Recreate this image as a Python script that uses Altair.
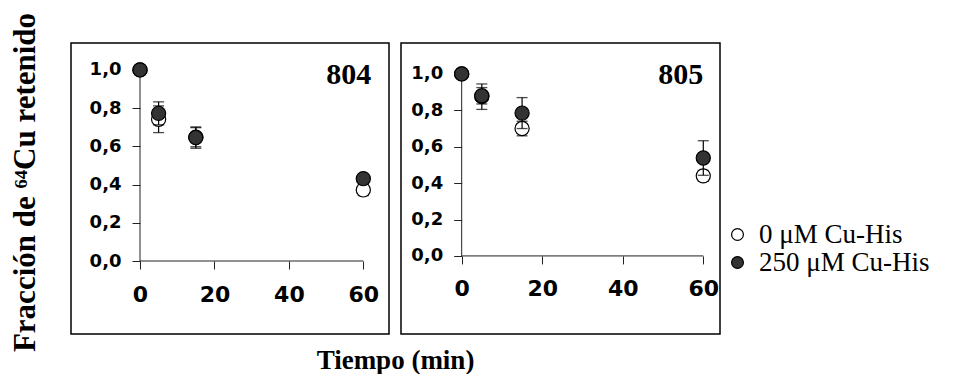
import altair as alt
import pandas as pd

# ---------------- data ----------------
times = [0, 5, 15, 60]
series_names = ["0 μM Cu-His", "250 μM Cu-His"]
panel_names = ["804", "805"]
x_ticks = [0, 20, 40, 60]
y_ticks = [0.0, 0.2, 0.4, 0.6, 0.8, 1.0]
axis_x_extent = [0, 60]
axis_y_extent = [0, 1]

m804_0 = [1.0, 0.742, 0.648, 0.372]
e804_0 = [0.0, 0.07, 0.05, 0.03]
m804_250 = [1.0, 0.773, 0.646, 0.431]
e804_250 = [0.0, 0.06, 0.056, 0.02]

m805_0 = [1.0, 0.875, 0.70, 0.44]
e805_0 = [0.0, 0.07, 0.04, 0.03]
m805_250 = [1.0, 0.88, 0.785, 0.538]
e805_250 = [0.0, 0.045, 0.085, 0.095]

y_title = "Fracción de ⁶⁴Cu retenido"
x_title = "Tiempo (min)"


def table(mo, eo, mf, ef):
    rows = []
    for s, ms, es in [(series_names[0], mo, eo), (series_names[1], mf, ef)]:
        for t, m, e in zip(times, ms, es):
            rows.append({"t": t, "serie": s, "mean": m, "lo": m - e, "hi": m + e})
    return pd.DataFrame(rows)


df804 = table(m804_0, e804_0, m804_250, e804_250)
df805 = table(m805_0, e805_0, m805_250, e805_250)
axes_df = pd.DataFrame({
    "x": [axis_x_extent[0], 0],
    "x2": [axis_x_extent[1], 0],
    "y": [0, axis_y_extent[0]],
    "y2": [0, axis_y_extent[1]],
})

fill_scale = alt.Scale(domain=series_names, range=["white", "#333333"])
legend = alt.Legend(
    orient="none", legendX=653, legendY=178, title=None,
    labelFont="Liberation Serif", labelFontSize=27, labelColor="black",
    labelOffset=8, labelLimit=300,
    symbolType="circle", symbolSize=140, symbolStrokeColor="black",
    symbolStrokeWidth=1.2, rowPadding=0, padding=0,
)

SANS = "DejaVu Sans"
SERIF = "Liberation Serif"


def panel(name, df, width, height, xdom, ydom, with_titles, name_dx, name_dy):
    x0 = width * (0 - xdom[0]) / (xdom[1] - xdom[0])
    y0 = height * (ydom[1] - 0) / (ydom[1] - ydom[0])
    xs = alt.Scale(domain=xdom, nice=False, zero=False)
    ys = alt.Scale(domain=ydom, nice=False, zero=False)
    xkw = dict(
        values=x_ticks, offset=y0 - height, domain=False, grid=False,
        tickSize=8, tickColor="#222222", tickWidth=1,
        labelFont=SANS, labelFontWeight="bold", labelFontSize=22,
        labelColor="black", labelPadding=15, labelFlush=False,
        labelOverlap=False, format="d",
    )
    ykw = dict(
        values=y_ticks, offset=-x0, domain=False, grid=False,
        tickSize=8, tickColor="#222222", tickWidth=1,
        labelFont=SANS, labelFontWeight="bold", labelFontSize=18,
        labelColor="black", labelPadding=11, labelFlush=False,
        labelOverlap=False,
        labelExpr="replace(format(datum.value, '.1f'), '.', ',')",
    )
    if with_titles:
        xkw.update(title=x_title, titleX=324, titleY=369 - (44 + y0),
                   titleAlign="center", titleBaseline="alphabetic", titleAngle=0,
                   titleFont=SERIF, titleFontSize=27, titleFontWeight="bold",
                   titleColor="black")
        ykw.update(title=y_title, titleX=-x0 - 37, titleY=139,
                   titleAlign="center", titleBaseline="alphabetic", titleAngle=270,
                   titleFont=SERIF, titleFontSize=31, titleFontWeight="bold",
                   titleColor="black")
    else:
        xkw.update(title=None)
        ykw.update(title=None)
    xaxis = alt.Axis(**xkw)
    yaxis = alt.Axis(**ykw)

    def X(f):
        return alt.X(f, type="quantitative", scale=xs, axis=xaxis)

    def Y(f):
        return alt.Y(f, type="quantitative", scale=ys, axis=yaxis)

    layers = [
        alt.Chart(axes_df).mark_rule(color="#222222", strokeWidth=1).encode(
            x=X("x"), x2="x2", y=Y("y"), y2="y2")
    ]
    for s in series_names:
        sub = alt.Chart(df).transform_filter(alt.datum.serie == s)
        layers.append(sub.mark_rule(color="black", strokeWidth=1.2).encode(
            x=X("t"), y=Y("lo"), y2="hi"))
        layers.append(sub.transform_fold(["lo", "hi"], as_=["k", "v"]).mark_tick(
            orient="horizontal", size=11, thickness=1.3, color="black").encode(
            x=X("t"), y=Y("v:Q")))
        layers.append(sub.mark_point(
            filled=True, shape="circle", size=200, stroke="black",
            strokeWidth=1.2, opacity=1).encode(
            x=X("t"), y=Y("mean"),
            fill=alt.Fill("serie:N", scale=fill_scale, legend=legend)))
    label_df = pd.DataFrame({"t": [max(x_ticks)], "v": [max(y_ticks)], "label": [name]})
    layers.append(alt.Chart(label_df).mark_text(
        align="right", baseline="alphabetic", dx=name_dx, dy=name_dy,
        font=SERIF, fontSize=30, fontWeight="bold", color="black").encode(
        x=X("t"), y=Y("v"), text="label:N"))
    return alt.layer(*layers).properties(width=width, height=height)


p1 = panel(panel_names[0], df804, 318, 291, [-18.54, 66.9], [-0.382, 1.141], True, 8, 14)
p2 = panel(panel_names[1], df805, 319, 291, [-15.07, 64.15], [-0.429, 1.170], False, 0, 10)

chart = alt.hconcat(p1, p2, spacing=12, bounds="flush").resolve_scale(
    x="independent", y="independent", fill="shared"
).properties(
    padding={"left": 0, "top": 3, "right": 0, "bottom": 0},
    background="white",
).configure_view(stroke="black", strokeWidth=1.5)

chart.save("out.html", embed_options={"renderer": "svg", "actions": False})
